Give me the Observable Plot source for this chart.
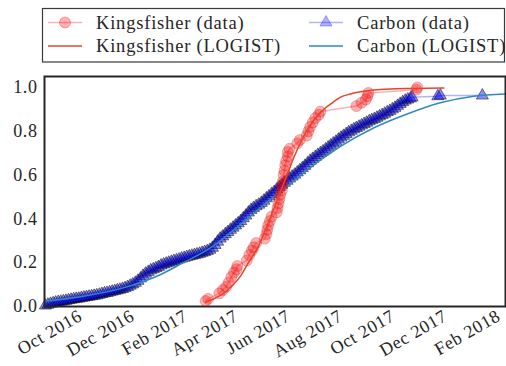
<!DOCTYPE html>
<html><head><meta charset="utf-8">
<script src="https://cdn.jsdelivr.net/npm/d3@7"></script>
<script src="https://cdn.jsdelivr.net/npm/@observablehq/plot@0.6"></script>
<style>
body{margin:0;background:#fff;font-family:"Liberation Serif",serif;}
#chart svg{display:block;}
#chart svg text{font-family:"Liberation Serif",serif;}
#chart svg.legend text{letter-spacing:0.8px;}
#chart svg.plot text{letter-spacing:0.6px;}
</style></head><body><div id="chart"></div>
<script>
// ---- data ----
const carbonDates = [
"2016-08-21","2016-08-24","2016-08-27","2016-08-30",
"2016-09-02","2016-09-05","2016-09-08","2016-09-11","2016-09-14","2016-09-17","2016-09-20","2016-09-23","2016-09-26","2016-09-29",
"2016-10-02","2016-10-05","2016-10-08","2016-10-11","2016-10-14","2016-10-17","2016-10-20","2016-10-23","2016-10-26","2016-10-29",
"2016-11-01","2016-11-04","2016-11-07","2016-11-10","2016-11-13","2016-11-16","2016-11-19","2016-11-22","2016-11-25","2016-11-28",
"2016-12-01","2016-12-04","2016-12-07","2016-12-10","2016-12-13","2016-12-16","2016-12-19","2016-12-22","2016-12-25","2016-12-28","2016-12-31",
"2017-01-03","2017-01-06","2017-01-09","2017-01-12","2017-01-15","2017-01-18","2017-01-21","2017-01-24","2017-01-27","2017-01-30",
"2017-02-02","2017-02-05","2017-02-08","2017-02-11","2017-02-14","2017-02-17","2017-02-20","2017-02-23","2017-02-26",
"2017-03-01","2017-03-04","2017-03-07","2017-03-10","2017-03-13","2017-03-16","2017-03-19","2017-03-22","2017-03-25","2017-03-28","2017-03-31",
"2017-04-03","2017-04-06","2017-04-09","2017-04-12","2017-04-15","2017-04-18","2017-04-21","2017-04-24","2017-04-27","2017-04-30",
"2017-05-03","2017-05-06","2017-05-09","2017-05-12","2017-05-15","2017-05-18","2017-05-21","2017-05-24","2017-05-27","2017-05-30",
"2017-06-02","2017-06-05","2017-06-08","2017-06-11","2017-06-14","2017-06-17","2017-06-20","2017-06-23","2017-06-26","2017-06-29",
"2017-07-02","2017-07-05","2017-07-08","2017-07-11","2017-07-14","2017-07-17","2017-07-20","2017-07-23","2017-07-26","2017-07-29",
"2017-08-01","2017-08-04","2017-08-07","2017-08-10","2017-08-13","2017-08-16","2017-08-19","2017-08-22","2017-08-25","2017-08-28","2017-08-31",
"2017-09-03","2017-09-06","2017-09-09","2017-09-12","2017-09-15","2017-09-18","2017-09-21","2017-09-24","2017-09-27","2017-09-30",
"2017-10-03","2017-10-06","2017-10-09","2017-10-12","2017-10-15","2017-10-18","2017-10-21","2017-10-23",
"2017-11-22","2017-11-25","2018-01-13"];
const carbonValues = [
0.004,0.008,0.012,0.015,
0.018,0.021,0.022,0.024,0.026,0.029,0.031,0.033,0.035,0.036,
0.039,0.041,0.043,0.045,0.047,0.049,0.051,0.054,0.057,0.060,
0.062,0.065,0.068,0.071,0.074,0.077,0.080,0.084,0.089,0.095,
0.101,0.108,0.117,0.128,0.140,0.150,0.158,0.165,0.170,0.175,0.180,
0.187,0.192,0.196,0.200,0.204,0.208,0.211,0.215,0.219,0.222,
0.226,0.229,0.232,0.235,0.238,0.241,0.245,0.249,0.253,
0.259,0.268,0.281,0.296,0.310,0.320,0.330,0.340,0.350,0.360,0.370,
0.380,0.390,0.403,0.415,0.429,0.441,0.450,0.458,0.465,0.473,
0.483,0.494,0.503,0.513,0.523,0.534,0.546,0.556,0.565,0.574,
0.584,0.593,0.602,0.612,0.622,0.632,0.642,0.654,0.665,0.674,
0.683,0.692,0.700,0.708,0.717,0.726,0.735,0.744,0.752,0.762,
0.771,0.779,0.787,0.795,0.802,0.809,0.815,0.821,0.827,0.833,0.839,
0.846,0.851,0.856,0.862,0.868,0.874,0.880,0.887,0.893,0.900,
0.907,0.916,0.925,0.933,0.940,0.945,0.950,0.955,
0.960,0.963,0.963];

const kingDates = ["2017-02-24","2017-02-27","2017-03-12","2017-03-16","2017-03-20","2017-03-23","2017-03-26","2017-03-29","2017-04-01","2017-04-02","2017-04-13","2017-04-16","2017-04-19","2017-04-21","2017-04-24","2017-05-04","2017-05-06","2017-05-07","2017-05-08","2017-05-10","2017-05-12","2017-05-18","2017-05-19","2017-05-20","2017-05-21","2017-05-22","2017-05-24","2017-05-24","2017-05-25","2017-05-26","2017-05-27","2017-05-28","2017-05-29","2017-05-31","2017-05-31","2017-06-02","2017-06-11","2017-06-14","2017-06-22","2017-06-24","2017-06-26","2017-06-29","2017-07-02","2017-07-06","2017-07-08","2017-08-19","2017-08-25","2017-08-30","2017-09-01","2017-09-02","2017-10-28","2017-10-29"];
const kingValues = [0.025,0.035,0.06,0.075,0.09,0.11,0.135,0.155,0.17,0.185,0.21,0.235,0.255,0.27,0.29,0.31,0.33,0.35,0.37,0.39,0.41,0.43,0.45,0.47,0.49,0.51,0.53,0.55,0.57,0.60,0.62,0.645,0.665,0.685,0.705,0.72,0.745,0.76,0.78,0.80,0.82,0.84,0.86,0.875,0.89,0.915,0.93,0.945,0.96,0.975,0.99,1.0];

const kingFitDates = ["2017-02-24","2017-03-08","2017-03-17","2017-03-27","2017-04-06","2017-04-15","2017-04-26","2017-05-05","2017-05-14","2017-05-22","2017-05-31","2017-06-07","2017-06-15","2017-06-23","2017-07-02","2017-07-12","2017-07-22","2017-07-31","2017-08-12","2017-08-24","2017-09-08","2017-09-28","2017-10-18","2017-11-08","2017-11-29"];
const kingFitValues = [0.02,0.04,0.06,0.095,0.14,0.20,0.27,0.35,0.44,0.52,0.61,0.68,0.75,0.81,0.86,0.90,0.93,0.955,0.97,0.98,0.988,0.993,0.995,0.996,0.997];

const carbonFitDates = ["2016-08-20","2016-10-01","2016-11-20","2017-01-02","2017-01-29","2017-02-26","2017-04-06","2017-05-14","2017-06-03","2017-06-23","2017-07-31","2017-09-08","2017-10-18","2017-11-25","2018-01-03","2018-02-09"];
const carbonFitValues = [0.024,0.045,0.085,0.145,0.2,0.258,0.375,0.50,0.56,0.625,0.73,0.815,0.88,0.93,0.96,0.97];

const xTicks = ["2016-10-01","2016-12-01","2017-02-01","2017-04-01","2017-06-01","2017-08-01","2017-10-01","2017-12-01","2018-02-01"];
const yTicks = [0,0.2,0.4,0.6,0.8,1.0];
const xDomain = ["2016-08-20","2018-02-09"];
const yDomain = [0,1.05];

const seriesNames = ["Kingsfisher (data)","Kingsfisher (LOGIST)","Carbon (data)","Carbon (LOGIST)"];

// ---- build tables ----
const zip = (ds, vs) => ds.map((d,i) => ({date: new Date(d), value: vs[i]}));
const carbon = zip(carbonDates, carbonValues);
const king = zip(kingDates, kingValues);
const kingFit = zip(kingFitDates, kingFitValues);
const carbonFit = zip(carbonFitDates, carbonFitValues);

const RED_FIT = "#e8432d", BLUE_FIT = "#2f89c0";
const FONT = "Liberation Serif, serif";
const INK = "#262626";

// ---- legend (above the plot) ----
const leg = d3.create("svg").attr("class","legend").attr("width",506).attr("height",70)
  .attr("font-family",FONT).attr("font-size",18.5);
leg.append("rect").attr("x",42.5).attr("y",8.5).attr("width",462).attr("height",53.5)
  .attr("fill","#fff").attr("stroke","#3a3a3a").attr("stroke-width",1.2);
const entries = [
  {name: seriesNames[0], x:48, y:22.5, kind:"kdata"},
  {name: seriesNames[1], x:48, y:46, kind:"kfit"},
  {name: seriesNames[2], x:309, y:22.5, kind:"cdata"},
  {name: seriesNames[3], x:309, y:46, kind:"cfit"}
];
for (const e of entries) {
  const g = leg.append("g");
  if (e.kind === "kdata") {
    g.append("line").attr("x1",e.x).attr("x2",e.x+34).attr("y1",e.y).attr("y2",e.y).attr("stroke","red").attr("stroke-opacity",0.3).attr("stroke-width",1.5);
    g.append("circle").attr("cx",e.x+17).attr("cy",e.y).attr("r",5.5).attr("fill","red").attr("fill-opacity",0.3).attr("stroke","red").attr("stroke-opacity",0.3);
  } else if (e.kind === "cdata") {
    g.append("line").attr("x1",e.x).attr("x2",e.x+34).attr("y1",e.y).attr("y2",e.y).attr("stroke","blue").attr("stroke-opacity",0.3).attr("stroke-width",1.5);
    g.append("path").attr("d", d3.symbol(d3.symbolTriangle, Math.PI*4.5*4.5)()).attr("transform",`translate(${e.x+17},${e.y})`).attr("fill","blue").attr("fill-opacity",0.3).attr("stroke","blue").attr("stroke-opacity",0.3);
  } else {
    g.append("line").attr("x1",e.x).attr("x2",e.x+34).attr("y1",e.y).attr("y2",e.y).attr("stroke", e.kind==="kfit"?RED_FIT:BLUE_FIT).attr("stroke-width",1.5);
  }
  g.append("text").attr("x",e.x+48).attr("y",e.y).attr("dy","0.35em").attr("fill",INK).text(e.name);
}
document.getElementById("chart").appendChild(leg.node());

// ---- plot ----
const plot = Plot.plot({
  className: "plot",
  width: 506, height: 296,
  marginTop: 6, marginBottom: 60, marginLeft: 44, marginRight: 1,
  style: {fontFamily: FONT, fontSize: "18px", color: INK, background: "#fff"},
  x: {type: "utc", domain: xDomain.map(d => new Date(d))},
  y: {domain: yDomain},
  marks: [
    Plot.axisY({ticks: yTicks, tickFormat: d3.format(".1f"), tickSize: 0, tickPadding: 7, label: null, fontSize: 18, fontFamily: FONT, fill: INK}),
    Plot.axisX({ticks: xTicks.map(d => new Date(d)), tickFormat: d3.utcFormat("%b %Y"), tickRotate: -30, tickSize: 0, tickPadding: 8, label: null, fontSize: 18, fontFamily: FONT, fill: INK}),
    Plot.line(carbon, {x: "date", y: "value", stroke: "blue", strokeOpacity: 0.3, strokeWidth: 1.5}),
    Plot.dot(carbon, {x: "date", y: "value", symbol: "triangle", r: 4.5, fill: "blue", fillOpacity: 0.45, stroke: "#000", strokeOpacity: 0.6, strokeWidth: 0.8}),
    Plot.line(carbonFit, {x: "date", y: "value", stroke: BLUE_FIT, strokeWidth: 1.5, curve: "monotone-x", clip: true}),
    Plot.line(king, {x: "date", y: "value", stroke: "red", strokeOpacity: 0.3, strokeWidth: 1.5}),
    Plot.dot(king, {x: "date", y: "value", r: 5.5, fill: "red", fillOpacity: 0.3, stroke: "#a22", strokeOpacity: 0.35, strokeWidth: 0.8}),
    Plot.line(kingFit, {x: "date", y: "value", stroke: RED_FIT, strokeWidth: 1.5, curve: "monotone-x"}),
    Plot.frame({stroke: INK, strokeWidth: 2})
  ]
});
document.getElementById("chart").appendChild(plot);
</script>
</body></html>
